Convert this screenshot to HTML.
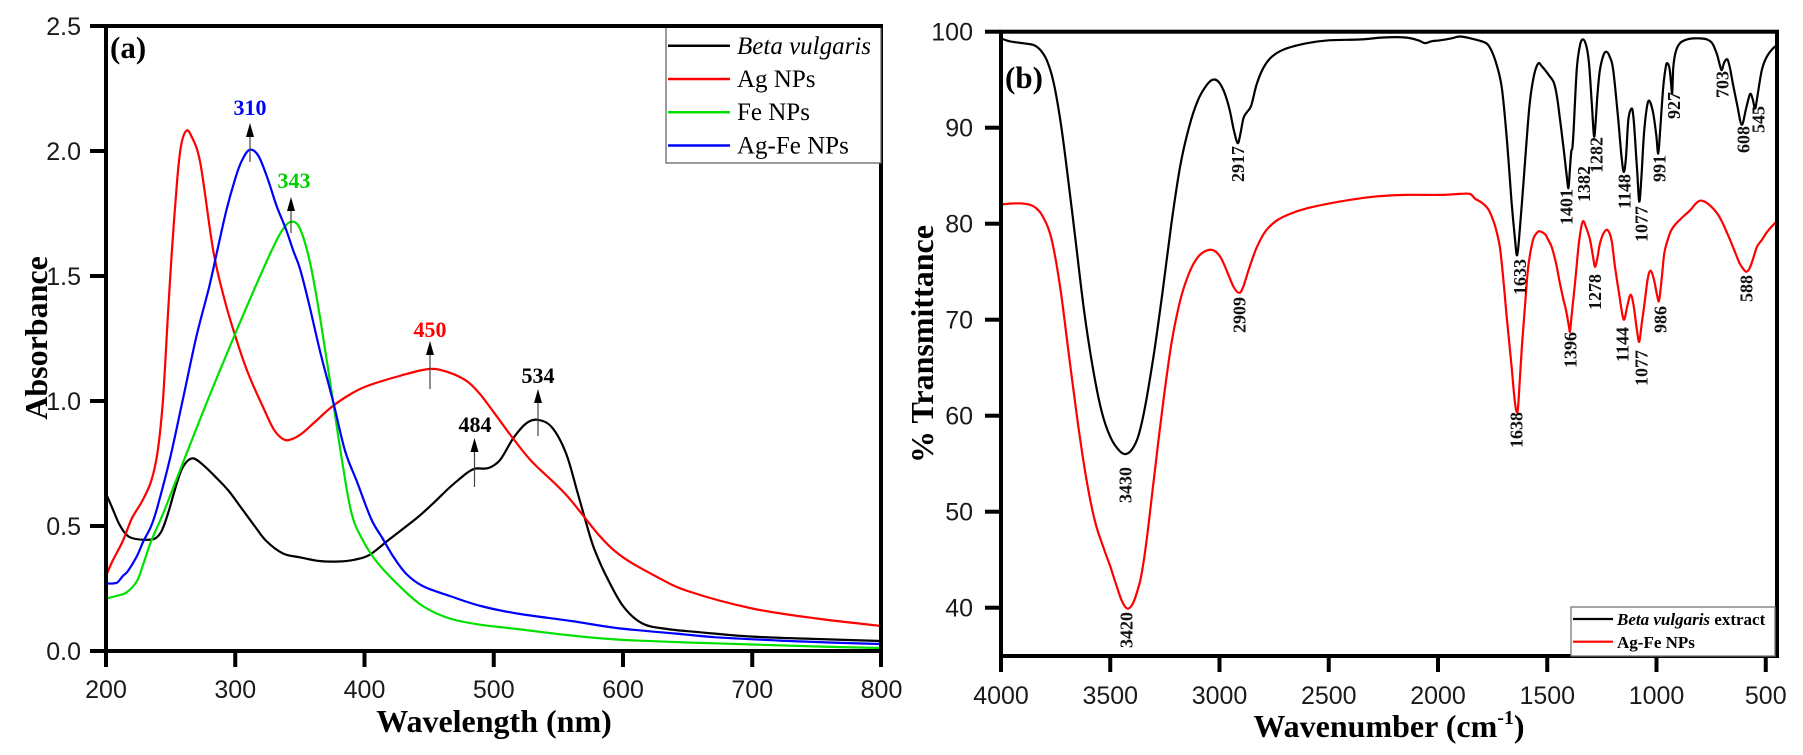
<!DOCTYPE html>
<html><head><meta charset="utf-8">
<style>
html,body{margin:0;padding:0;background:#fff;}
svg{display:block;}
.ser{font-family:"Liberation Serif","Times New Roman",serif;}
.ax{font-family:"Liberation Sans",Arial,sans-serif;font-size:25px;fill:#1a1a1a;}
.pk{font-family:"Liberation Serif","Times New Roman",serif;font-size:18px;font-weight:bold;fill:#111;}
</style></head><body>
<svg width="1803" height="755" viewBox="0 0 1803 755" xmlns="http://www.w3.org/2000/svg">
<defs>
<clipPath id="cl"><rect x="106" y="26" width="775" height="625"/></clipPath>
<clipPath id="cr"><rect x="1001" y="31.7" width="776" height="624.3"/></clipPath>
</defs>
<rect width="1803" height="755" fill="#fff"/>

<!-- ===== LEFT PANEL ===== -->
<g clip-path="url(#cl)" fill="none" stroke-width="2.2" stroke-linejoin="round">
<path id="lb" stroke="#000"/>
<path id="lr" stroke="#ff0000"/>
<path id="lg" stroke="#00e000"/>
<path id="lbl" stroke="#0000ff"/>
</g>
<rect x="106" y="26" width="775" height="625" fill="none" stroke="#000" stroke-width="4"/>
<g stroke="#000" stroke-width="4">
<line x1="90" y1="651" x2="106" y2="651"/><line x1="90" y1="526" x2="106" y2="526"/>
<line x1="90" y1="401" x2="106" y2="401"/><line x1="90" y1="276" x2="106" y2="276"/>
<line x1="90" y1="151" x2="106" y2="151"/><line x1="90" y1="26" x2="106" y2="26"/>
<line x1="106" y1="651" x2="106" y2="667"/><line x1="235.25" y1="651" x2="235.25" y2="667"/>
<line x1="364.5" y1="651" x2="364.5" y2="667"/><line x1="493.75" y1="651" x2="493.75" y2="667"/>
<line x1="623" y1="651" x2="623" y2="667"/><line x1="752.25" y1="651" x2="752.25" y2="667"/>
<line x1="881" y1="651" x2="881" y2="667"/>
</g>
<g class="ax" text-anchor="end">
<text x="81" y="660">0.0</text><text x="81" y="535">0.5</text><text x="81" y="410">1.0</text>
<text x="81" y="285">1.5</text><text x="81" y="160">2.0</text><text x="81" y="35">2.5</text>
</g>
<g class="ax" text-anchor="middle">
<text x="106" y="698">200</text><text x="235.25" y="698">300</text><text x="364.5" y="698">400</text>
<text x="493.75" y="698">500</text><text x="623" y="698">600</text><text x="752.25" y="698">700</text>
<text x="881.5" y="698">800</text>
</g>
<text class="ser" x="494" y="732" text-anchor="middle" font-size="32" font-weight="bold">Wavelength (nm)</text>
<text class="ser" transform="translate(47,338) rotate(-90)" text-anchor="middle" font-size="32" font-weight="bold">Absorbance</text>
<text class="ser" x="110" y="58" font-size="31" font-weight="bold">(a)</text>

<!-- left legend -->
<rect x="666" y="26" width="215" height="137" fill="#fff" stroke="#666" stroke-width="1.3"/>
<rect x="106" y="24" width="777" height="4" fill="#000"/>
<g stroke-width="2.5">
<line x1="668" y1="45.7" x2="730" y2="45.7" stroke="#000"/>
<line x1="668" y1="79" x2="730" y2="79" stroke="#ff0000"/>
<line x1="668" y1="112.3" x2="730" y2="112.3" stroke="#00e000"/>
<line x1="668" y1="145.5" x2="730" y2="145.5" stroke="#0000ff"/>
</g>
<g class="ser" font-size="25" fill="#000">
<text x="737" y="54" font-style="italic">Beta vulgaris</text>
<text x="737" y="87">Ag NPs</text>
<text x="737" y="120">Fe NPs</text>
<text x="737" y="153.5">Ag-Fe NPs</text>
</g>

<!-- left annotations -->
<g class="ser" font-size="22" font-weight="bold" text-anchor="middle">
<text x="250" y="115" fill="#0000ff">310</text>
<text x="294" y="188" fill="#00d000">343</text>
<text x="430" y="337" fill="#ff0000">450</text>
<text x="538" y="383" fill="#000">534</text>
<text x="475" y="432" fill="#000">484</text>
</g>
<g stroke="#444" stroke-width="1.2">
<line x1="250" y1="135" x2="250" y2="162"/>
<line x1="291" y1="209" x2="291" y2="233"/>
<line x1="430" y1="353" x2="430" y2="389"/>
<line x1="538" y1="401" x2="538" y2="436"/>
<line x1="474.5" y1="450" x2="474.5" y2="487"/>
</g>
<g fill="#000">
<polygon points="250,123 246,137 254,137"/>
<polygon points="291,197 287,211 295,211"/>
<polygon points="430,341 426,355 434,355"/>
<polygon points="538,389 534,403 542,403"/>
<polygon points="474.5,438 470.5,452 478.5,452"/>
</g>

<!-- ===== RIGHT PANEL ===== -->
<g clip-path="url(#cr)" fill="none" stroke-width="2.2" stroke-linejoin="round">
<path id="rb" stroke="#000"/>
<path id="rr" stroke="#ff0000"/>
</g>
<rect x="1001" y="31.7" width="776" height="624.3" fill="none" stroke="#000" stroke-width="4"/>
<g stroke="#000" stroke-width="4">
<line x1="985" y1="31.7" x2="1001" y2="31.7"/><line x1="985" y1="127.7" x2="1001" y2="127.7"/>
<line x1="985" y1="223.7" x2="1001" y2="223.7"/><line x1="985" y1="319.7" x2="1001" y2="319.7"/>
<line x1="985" y1="415.7" x2="1001" y2="415.7"/><line x1="985" y1="511.7" x2="1001" y2="511.7"/>
<line x1="985" y1="607.7" x2="1001" y2="607.7"/>
<line x1="1001" y1="656" x2="1001" y2="672"/><line x1="1110.25" y1="656" x2="1110.25" y2="672"/>
<line x1="1219.5" y1="656" x2="1219.5" y2="672"/><line x1="1328.75" y1="656" x2="1328.75" y2="672"/>
<line x1="1438" y1="656" x2="1438" y2="672"/><line x1="1547.25" y1="656" x2="1547.25" y2="672"/>
<line x1="1656.5" y1="656" x2="1656.5" y2="672"/><line x1="1765.75" y1="656" x2="1765.75" y2="672"/>
</g>
<g class="ax" text-anchor="end">
<text x="973" y="40.7">100</text><text x="973" y="136.7">90</text><text x="973" y="232.7">80</text>
<text x="973" y="328.7">70</text><text x="973" y="424.7">60</text><text x="973" y="520.7">50</text>
<text x="973" y="616.7">40</text>
</g>
<g class="ax" text-anchor="middle">
<text x="1001" y="704">4000</text><text x="1110.25" y="704">3500</text><text x="1219.5" y="704">3000</text>
<text x="1328.75" y="704">2500</text><text x="1438" y="704">2000</text><text x="1547.25" y="704">1500</text>
<text x="1656.5" y="704">1000</text><text x="1765.75" y="704">500</text>
</g>
<text class="ser" x="1389" y="737" text-anchor="middle" font-size="32" font-weight="bold">Wavenumber (cm<tspan font-size="20" dy="-13">-1</tspan><tspan dy="13">)</tspan></text>
<text class="ser" transform="translate(933,344) rotate(-90)" text-anchor="middle" font-size="32" font-weight="bold">% Transmittance</text>
<text class="ser" x="1005" y="88" font-size="31" font-weight="bold">(b)</text>

<!-- right legend -->
<rect x="1571" y="607" width="204" height="49" fill="#fff" stroke="#777" stroke-width="1.3"/>
<line x1="1573" y1="619" x2="1613" y2="619" stroke="#000" stroke-width="2.2"/>
<line x1="1573" y1="641.7" x2="1613" y2="641.7" stroke="#ff0000" stroke-width="2.2"/>
<g class="ser" font-size="17" font-weight="bold" fill="#000">
<text x="1617" y="625"><tspan font-style="italic">Beta vulgaris</tspan> extract</text>
<text x="1617" y="648">Ag-Fe NPs</text>
</g>

<!-- peak labels (rotated) -->
<g class="pk">
<text transform="translate(1131.5,503) rotate(-90)">3430</text>
<text transform="translate(1244,182) rotate(-90)">2917</text>
<text transform="translate(1526,295) rotate(-90)">1633</text>
<text transform="translate(1572.7,225) rotate(-90)">1401</text>
<text transform="translate(1590,202) rotate(-90)">1382</text>
<text transform="translate(1602.7,173) rotate(-90)">1282</text>
<text transform="translate(1630.3,209) rotate(-90)">1148</text>
<text transform="translate(1647.7,242) rotate(-90)">1077</text>
<text transform="translate(1665.3,182) rotate(-90)">991</text>
<text transform="translate(1680,119) rotate(-90)">927</text>
<text transform="translate(1728.7,98) rotate(-90)">703</text>
<text transform="translate(1749.3,153) rotate(-90)">608</text>
<text transform="translate(1764.3,133) rotate(-90)">545</text>
<text transform="translate(1132.7,648) rotate(-90)">3420</text>
<text transform="translate(1245.4,333) rotate(-90)">2909</text>
<text transform="translate(1522.7,448) rotate(-90)">1638</text>
<text transform="translate(1576.7,368) rotate(-90)">1396</text>
<text transform="translate(1601,310) rotate(-90)">1278</text>
<text transform="translate(1628.7,362) rotate(-90)">1144</text>
<text transform="translate(1647.7,386) rotate(-90)">1077</text>
<text transform="translate(1666.7,333) rotate(-90)">986</text>
<text transform="translate(1752.7,302) rotate(-90)">588</text>
</g>
</svg>
<script>
function mk(data,fx,fy){
  var p=data.map(function(d){return [fx(d[0]),fy(d[1])];});
  var s='M'+p[0][0].toFixed(1)+' '+p[0][1].toFixed(1);
  for(var i=0;i<p.length-1;i++){
    var p0=p[i-1]||p[i],p1=p[i],p2=p[i+1],p3=p[i+2]||p[i+1];
    var c1x=p1[0]+(p2[0]-p0[0])/6,c1y=p1[1]+(p2[1]-p0[1])/6;
    var c2x=p2[0]-(p3[0]-p1[0])/6,c2y=p2[1]-(p3[1]-p1[1])/6;
    s+=' C'+c1x.toFixed(1)+' '+c1y.toFixed(1)+' '+c2x.toFixed(1)+' '+c2y.toFixed(1)+' '+p2[0].toFixed(1)+' '+p2[1].toFixed(1);
  }
  return s;
}
var LX=function(n){return 106+(n-200)*1.2925;}, LY=function(a){return 651-a*250;};
var RX=function(w){return 1001+(4000-w)*0.2185;}, RY=function(t){return 31.7+(100-t)*9.6;};

var black=[[200,0.63],[205,0.57],[210,0.51],[215,0.47],[220,0.452],[230,0.445],[238,0.45],[243,0.48],[248,0.55],[253,0.64],[258,0.72],[263,0.76],[268,0.77],[275,0.745],[285,0.695],[295,0.64],[305,0.57],[315,0.5],[324,0.44],[337,0.39],[350,0.375],[365,0.36],[380,0.358],[392,0.365],[404,0.385],[420,0.45],[440,0.53],[453,0.59],[465,0.65],[474,0.69],[480,0.715],[486,0.73],[496,0.732],[505,0.765],[515,0.85],[525,0.91],[534,0.925],[545,0.895],[556,0.79],[565,0.63],[575,0.45],[580,0.38],[587,0.3],[600,0.18],[615,0.11],[634,0.088],[660,0.075],[698,0.058],[750,0.048],[800,0.04]];
var red=[[200,0.3],[205,0.36],[213,0.44],[220,0.53],[228,0.6],[235,0.68],[240,0.8],[244,1.0],[248,1.35],[251,1.6],[255,1.88],[258,2.02],[262,2.08],[266,2.06],[273,1.95],[283,1.6],[292,1.4],[300,1.26],[310,1.11],[322,0.97],[330,0.885],[338,0.845],[345,0.85],[352,0.872],[362,0.918],[375,0.978],[390,1.03],[402,1.06],[427,1.1],[450,1.128],[465,1.115],[479,1.08],[489,1.03],[500,0.955],[515,0.85],[530,0.755],[556,0.625],[582,0.46],[600,0.375],[625,0.3],[650,0.24],[700,0.17],[750,0.13],[800,0.1]];
var green=[[200,0.21],[208,0.22],[216,0.235],[224,0.28],[229,0.35],[235,0.44],[245,0.56],[260,0.76],[280,1.02],[300,1.27],[315,1.45],[328,1.6],[336,1.68],[343,1.717],[350,1.69],[358,1.55],[366,1.32],[375.6,1.0],[383,0.75],[390,0.55],[398,0.45],[409,0.36],[427,0.26],[445,0.18],[466,0.13],[490,0.105],[518,0.088],[560,0.062],[595,0.046],[650,0.034],[700,0.026],[750,0.018],[800,0.012]];
var blue=[[200,0.27],[205,0.27],[209,0.275],[213,0.3],[217,0.32],[224,0.38],[229,0.44],[235,0.5],[240,0.58],[250,0.78],[260,1.02],[270,1.26],[280,1.46],[286,1.6],[293,1.76],[300,1.89],[305,1.96],[311,2.005],[318,1.98],[325,1.89],[332,1.78],[339,1.69],[345,1.6],[350,1.53],[357,1.39],[366,1.19],[375.6,1.0],[385,0.8],[394,0.68],[405,0.53],[414,0.45],[422,0.38],[432,0.31],[445,0.26],[466,0.22],[490,0.18],[518,0.15],[560,0.12],[595,0.092],[640,0.07],[672,0.055],[720,0.042],[760,0.034],[800,0.028]];

var rb=[[4000,99.3],[3960,99.0],[3900,98.8],[3850,98.6],[3820,98.1],[3790,97],[3760,94.8],[3730,91],[3700,86],[3660,78.5],[3620,71],[3580,65],[3540,60.5],[3500,57.8],[3460,56.4],[3430,56.0],[3400,56.5],[3370,58],[3340,61],[3300,66.5],[3260,73],[3220,80],[3180,86],[3140,90],[3100,92.8],[3060,94.4],[3030,95],[3005,94.8],[2980,93.8],[2955,92],[2935,89.8],[2917,88.4],[2905,89.3],[2890,91],[2875,91.6],[2855,92.3],[2830,94.5],[2800,96.2],[2760,97.4],[2700,98.2],[2600,98.8],[2500,99.1],[2350,99.2],[2250,99.4],[2150,99.4],[2090,99.1],[2060,98.8],[2030,99.0],[1991,99.1],[1940,99.3],[1899,99.5],[1850,99.3],[1800,99.0],[1770,98.6],[1739,97.1],[1709,94.3],[1686,89.1],[1663,82.2],[1648,78.5],[1638,76.7],[1627,79],[1610,83.9],[1595,88.5],[1580,92.6],[1560,95.5],[1541,96.7],[1525,96.4],[1510,96.0],[1490,95.4],[1472,94.8],[1460,93.8],[1449,92.2],[1426,88.0],[1412,85.2],[1403,83.7],[1397,85.5],[1390,87.5],[1385,87.9],[1380,89.5],[1365,96.0],[1350,98.6],[1335,99.2],[1320,98.4],[1309,96.7],[1296,92.5],[1286,89.1],[1278,90.8],[1270,93.5],[1259,96.0],[1242,97.6],[1228,97.9],[1214,97.4],[1198,96.0],[1175,90.8],[1160,87.0],[1150,85.4],[1140,86.8],[1129,90.8],[1114,92.0],[1106,91.2],[1099,89.1],[1088,85.3],[1079,82.3],[1070,84.5],[1058,89.1],[1045,92.0],[1033,92.8],[1015,91.5],[1001,89.2],[992,87.3],[984,89.5],[969,94.3],[957,96.4],[949,96.7],[940,96.1],[934,94.8],[928,93.6],[923,96.3],[912,97.9],[893,98.8],[860,99.2],[832,99.3],[800,99.3],[770,99.2],[745,98.8],[724,97.7],[710,96.5],[701,96.0],[690,96.8],[675,97.1],[662,96.0],[648,94.3],[630,92.3],[610,90.3],[590,92.0],[572,93.5],[560,93.0],[549,92.0],[540,93.0],[518,96.0],[495,97.4],[465,98.3],[440,98.7]];
var rr=[[4000,82.0],[3950,82.1],[3900,82.1],[3850,81.8],[3810,80.8],[3770,78.5],[3730,73.5],[3690,66.5],[3650,59.5],[3610,53.5],[3570,49],[3530,46.2],[3500,44.3],[3470,42.2],[3445,40.6],[3420,39.9],[3395,40.5],[3370,42.2],[3356,43.6],[3333,47.1],[3300,53.5],[3260,61],[3220,67.5],[3180,72],[3140,74.8],[3100,76.5],[3060,77.2],[3025,77.2],[2995,76.5],[2965,75],[2935,73.4],[2909,72.8],[2890,73.5],[2865,75.3],[2830,77.5],[2790,79.2],[2740,80.3],[2680,81.0],[2600,81.6],[2450,82.3],[2300,82.8],[2150,83.0],[1991,83.0],[1900,83.1],[1854,83.1],[1830,82.6],[1800,82.2],[1770,81.5],[1745,80.2],[1730,79],[1716,77.4],[1700,74],[1686,70.4],[1663,65.1],[1650,61.8],[1640,60.4],[1632,61.3],[1617,66.9],[1600,72.0],[1587,75.5],[1565,78.3],[1545,79.1],[1533,79.2],[1510,78.9],[1495,78.3],[1480,77.6],[1460,75.9],[1442,73.8],[1425,72],[1414,71.0],[1400,69.2],[1396,68.8],[1388,70.5],[1373,73.8],[1355,78],[1338,80.2],[1322,79.6],[1304,78.3],[1290,76.5],[1281,75.5],[1270,76.5],[1258,78.0],[1240,79.1],[1222,79.3],[1205,78.2],[1190,75.5],[1170,72.5],[1155,70.4],[1146,70.1],[1132,71.6],[1118,72.6],[1105,71.5],[1090,69],[1079,67.7],[1068,69.5],[1053,72.0],[1040,74.3],[1027,75.1],[1012,74.2],[997,72.5],[988,72.0],[976,74.3],[965,76.8],[953,78.0],[935,79.2],[915,79.9],[880,80.7],[846,81.4],[820,82.1],[801,82.4],[780,82.3],[750,81.8],[720,81],[700,80.2],[680,79.2],[663,78.3],[640,77],[620,75.9],[600,75.2],[588,75.0],[575,75.3],[560,76.2],[540,77.6],[518,78.3],[495,79.1],[465,79.9],[440,80.4]];

document.getElementById('lb').setAttribute('d',mk(black,LX,LY));
document.getElementById('lr').setAttribute('d',mk(red,LX,LY));
document.getElementById('lg').setAttribute('d',mk(green,LX,LY));
document.getElementById('lbl').setAttribute('d',mk(blue,LX,LY));
document.getElementById('rb').setAttribute('d',mk(rb,RX,RY));
document.getElementById('rr').setAttribute('d',mk(rr,RX,RY));
</script>
</body></html>
